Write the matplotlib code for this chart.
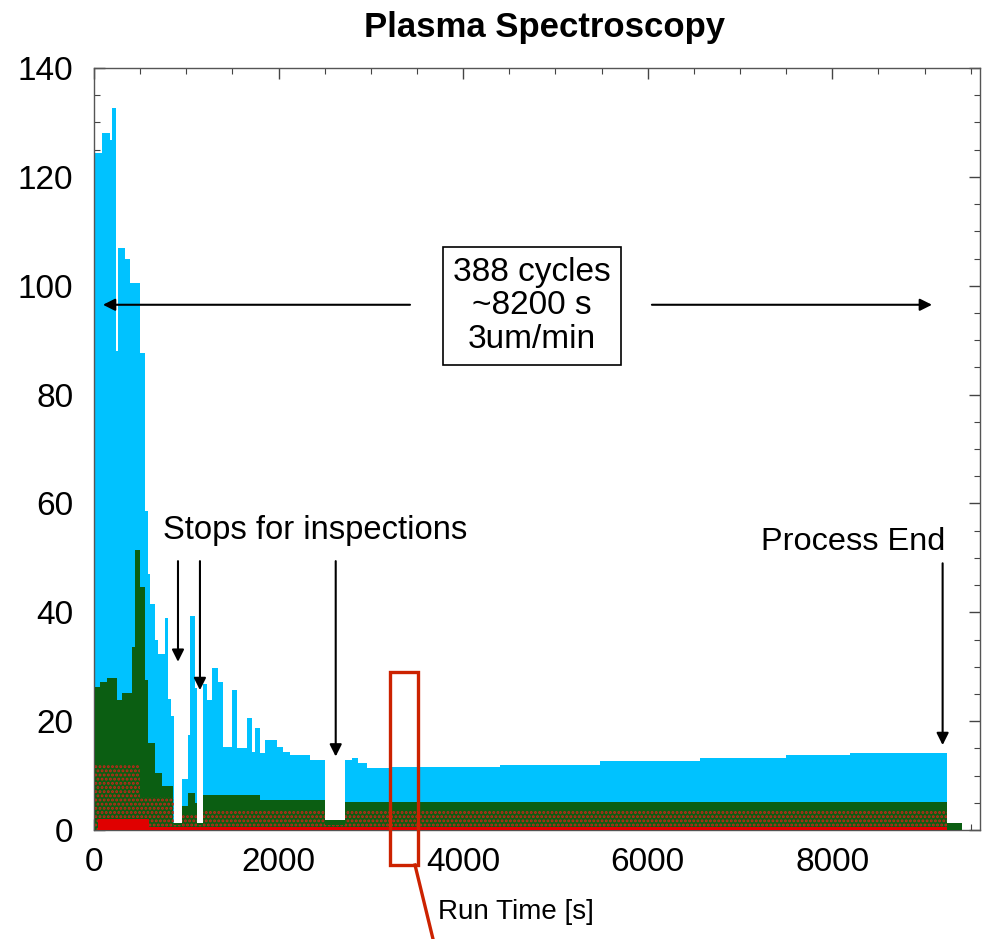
import matplotlib
matplotlib.use("Agg")
import matplotlib.pyplot as plt
from matplotlib.patches import Rectangle
from matplotlib.lines import Line2D
import numpy as np

plt.rcParams['font.family'] = ['Liberation Sans', 'DejaVu Sans']
plt.rcParams['hatch.linewidth'] = 1.4

# ---------------- data ----------------
# cyan signal: step envelope (segment start times [s], heights)
cyan_t = [5, 83, 173, 192, 238, 260, 336, 390, 498, 553, 585, 607, 661, 693,
          769, 802, 835, 867, 953, 1018, 1040, 1094, 1116, 1184, 1228, 1275,
          1347, 1401, 1492, 1553, 1654, 1709, 1744, 1798, 1853, 1979, 2051,
          2124, 2340, 2503, 2719, 2792, 2863, 2955, 3207, 3749, 4399, 5482,
          6566, 7500, 8191]
cyan_v = [124.4, 128.0, 126.8, 132.6, 88.0, 107.0, 105.0, 100.5, 87.6, 58.7,
          47.0, 41.5, 35.0, 32.3, 39.0, 24.0, 21.0, 0.0, 9.4, 17.5, 39.3, 26.0,
          0.0, 26.9, 23.9, 29.7, 27.2, 15.3, 25.7, 15.0, 20.5, 14.4, 18.7,
          14.1, 16.5, 15.3, 14.4, 13.8, 12.9, 0.0, 12.9, 13.2, 12.3, 11.4,
          11.6, 11.6, 12.0, 12.6, 13.2, 13.7, 14.1]
cyan_end = 9242

# green signal
green_t = [10, 65, 138, 246, 300, 408, 444, 498, 553, 590, 661, 733, 860, 953,
           1018, 1094, 1116, 1184, 1798, 2503, 2719, 9242]
green_v = [26.3, 27.2, 27.9, 23.9, 25.1, 33.7, 51.4, 44.7, 27.6, 15.9, 10.4,
           8.0, 1.3, 4.5, 6.8, 5.0, 1.2, 6.4, 5.5, 1.8, 5.2, 1.3]
green_end = 9400

# red signal (scattered part and baseline part)
red_t = [10, 500, 870, 953, 1116, 1184, 2503, 2719]
red_v = [12.0, 6.0, 1.0, 3.0, 1.0, 3.6, 1.0, 3.6]
red_end = 9242
red_base_t = [40, 600]
red_base_v = [2.0, 0.5]
red_base_end = 9242

x_ticks = [0, 2000, 4000, 6000, 8000]
y_ticks = [0, 20, 40, 60, 80, 100, 120, 140]

# ---------------- figure ----------------
W, H = 992, 939
fig = plt.figure(figsize=(W / 100, H / 100), dpi=100)
ax = fig.add_axes([94 / W, 1 - 830 / H, (980 - 94) / W, (830 - 68) / H])


def steps(t, v, end):
    x = np.array(list(t) + [end], dtype=float)
    y = np.array(list(v) + [v[-1]], dtype=float)
    return x, y


cx, cy = steps(cyan_t, cyan_v, cyan_end)
gx, gy = steps(green_t, green_v, green_end)
rx, ry = steps(red_t, red_v, red_end)
bx, by = steps(red_base_t, red_base_v, red_base_end)

ax.fill_between(cx, 0, cy, step='post', color='#00c2ff', linewidth=0, zorder=2)
ax.fill_between(gx, 0, gy, step='post', color='#0b5e12', linewidth=0, zorder=3)
ax.fill_between(rx, 0, ry, step='post', facecolor='none', edgecolor='#c8251a',
                hatch='....', linewidth=0, zorder=4)
ax.fill_between(bx, 0, by, step='post', color='#e00000', linewidth=0, zorder=5)

ax.set_xlim(0, 9600)
ax.set_ylim(0, 140)
ax.set_xticks(x_ticks)
ax.set_yticks(y_ticks)
ax.set_xticks(np.arange(0, 9601, 500), minor=True)
ax.set_yticks(np.arange(0, 141, 5), minor=True)
ax.tick_params(which='both', direction='in', top=True, right=True,
               color='#444444')
ax.tick_params(which='major', length=8, width=1.0)
ax.tick_params(which='minor', length=4, width=0.8)
ax.tick_params(axis='x', which='major', labelsize=24, pad=12)
ax.tick_params(axis='y', which='major', labelsize=24, pad=15)
for s in ax.spines.values():
    s.set_color('#555555')
    s.set_linewidth(1.0)

ax.set_xlabel('Run Time [s]', fontsize=20)
ax.xaxis.set_label_coords((516 - 94) / (980 - 94), -0.108)
ax.xaxis.label.set_va('center')

fig.text(545 / W, 1 - 27 / H, 'Plasma Spectroscopy', ha='center', va='center',
         fontsize=25, fontweight='bold')

# central box and double arrow
ax.text(4745, 96.3, '388 cycles\n~8200 s\n3um/min', ha='center', va='center',
        fontsize=24, linespacing=1.1, zorder=10,
        bbox=dict(boxstyle='square,pad=0.3', facecolor='white',
                  edgecolor='black', linewidth=1.2))
arrow_kw = dict(arrowstyle='-|>', color='black', lw=1.5, mutation_scale=18,
                shrinkA=0, shrinkB=0)
ax.annotate('', xy=(97, 96.5), xytext=(3424, 96.5), arrowprops=arrow_kw,
            zorder=10)
ax.annotate('', xy=(9080, 96.5), xytext=(6045, 96.5), arrowprops=arrow_kw,
            zorder=10)

# stops annotations
ax.text(748, 55.1, 'Stops for inspections', ha='left', va='center',
        fontsize=23.6, zorder=10)
for xa, ytip in [(910, 30.9), (1148, 25.7), (2619, 13.5)]:
    ax.annotate('', xy=(xa, ytip), xytext=(xa, 49.4), arrowprops=arrow_kw,
                zorder=10)

# process end
ax.text(9220, 52.9, 'Process End', ha='right', va='center', fontsize=23.4,
        zorder=10)
ax.annotate('', xy=(9195, 15.6), xytext=(9195, 49.0), arrowprops=arrow_kw,
            zorder=10)

# red highlight rectangle and leader line
ax.add_patch(Rectangle((3207, -6.4), 3510 - 3207, 29.0 + 6.4, fill=False,
                       edgecolor='#cc2200', linewidth=2.4, clip_on=False,
                       zorder=12))
fig.add_artist(Line2D([415 / W, 433 / W], [1 - 865 / H, 0.0],
                      color='#cc2200', linewidth=2.4))

fig.savefig('out.png', dpi=100)
